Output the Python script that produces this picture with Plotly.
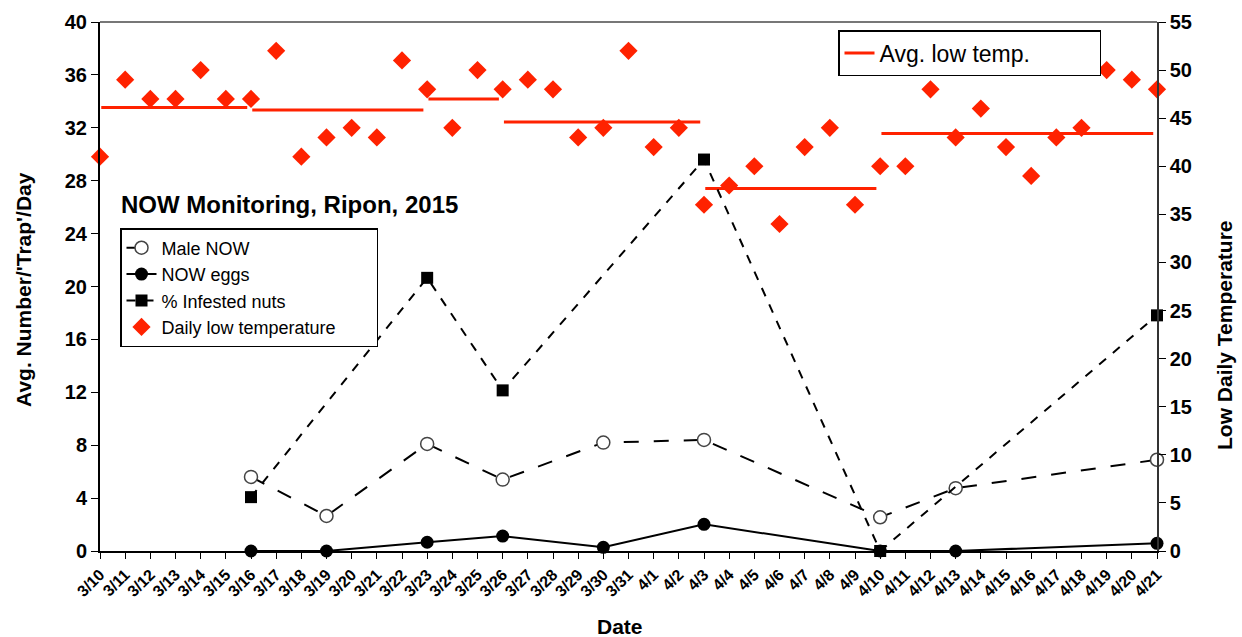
import plotly.graph_objects as go

dates = ["3/10", "3/11", "3/12", "3/13", "3/14", "3/15", "3/16", "3/17", "3/18", "3/19",
         "3/20", "3/21", "3/22", "3/23", "3/24", "3/25", "3/26", "3/27", "3/28", "3/29",
         "3/30", "3/31", "4/1", "4/2", "4/3", "4/4", "4/5", "4/6", "4/7", "4/8",
         "4/9", "4/10", "4/11", "4/12", "4/13", "4/14", "4/15", "4/16", "4/17", "4/18",
         "4/19", "4/20", "4/21"]

daily_low = [41, 49, 47, 47, 50, 47, 47, 52, 41, 43,
             44, 43, 51, 48, 44, 50, 48, 49, 48, 43,
             44, 52, 42, 44, 36, 38, 40, 34, 42, 44,
             36, 40, 40, 48, 43, 46, 42, 39, 43, 44,
             50, 49, 48]

sample_dates = ["3/16", "3/19", "3/23", "3/26", "3/30", "4/3", "4/10", "4/13", "4/21"]
male_now = [5.6, 2.65, 8.1, 5.4, 8.2, 8.4, 2.55, 4.75, 6.9]
now_eggs = [0, 0, 0.66, 1.13, 0.28, 2.02, 0, 0, 0.58]

infest_dates = ["3/16", "3/23", "3/26", "4/3", "4/10", "4/21"]
pct_infested = [5.6, 28.4, 16.7, 40.7, 0, 24.5]

avg_start = ["3/10", "3/16", "3/23", "3/26", "4/3", "4/10"]
avg_end = ["3/16", "3/23", "3/26", "4/3", "4/10", "4/21"]
avg_low = [46.1, 45.85, 47.0, 44.6, 37.7, 43.4]

idx = {d: i for i, d in enumerate(dates)}
RED = "#ff2200"
FONT = "Liberation Sans, Arial, sans-serif"
NB = "\u00a0"

# plot area in pixels
L, R, T, B = 100, 85, 22, 86
W, H = 1242, 637
PW, PH = W - L - R, H - T - B

def px_x(x):
    return (x - L) / PW

def px_y(y):
    return (H - B - y) / PH

fig = go.Figure()

ax, ay = [], []
for s, e, v in zip(avg_start, avg_end, avg_low):
    ax += [idx[s] + 0.05, idx[e] - 0.15, None]
    ay += [v, v, None]
fig.add_trace(go.Scatter(x=ax, y=ay, mode="lines", name="Avg. low temp." + NB * 10,
                         line=dict(color=RED, width=3), yaxis="y2", legend="legend2",
                         connectgaps=False))

fig.add_trace(go.Scatter(x=[idx[d] for d in infest_dates], y=pct_infested, mode="lines+markers",
                         name="% Infested nuts", yaxis="y2", legendrank=3,
                         line=dict(color="black", width=2, dash="dash"),
                         marker=dict(symbol="square", size=12, color="black"),
                         cliponaxis=False))

fig.add_trace(go.Scatter(x=[idx[d] for d in sample_dates], y=male_now, mode="lines+markers",
                         name="Male NOW", legendrank=1,
                         line=dict(color="black", width=2, dash="longdash"),
                         marker=dict(symbol="circle", size=13, color="white",
                                     line=dict(color="#444444", width=1.5)),
                         cliponaxis=False))

fig.add_trace(go.Scatter(x=[idx[d] for d in sample_dates], y=now_eggs, mode="lines+markers",
                         name="NOW eggs", legendrank=2,
                         line=dict(color="black", width=2),
                         marker=dict(symbol="circle", size=13, color="black"),
                         cliponaxis=False))

fig.add_trace(go.Scatter(x=list(range(len(dates))), y=daily_low, mode="markers",
                         name="Daily low temperature" + NB * 7, yaxis="y2", legendrank=4,
                         marker=dict(symbol="diamond", size=14, color=RED),
                         cliponaxis=False))

fig.update_layout(
    width=W, height=H,
    margin=dict(l=L, r=R, t=T, b=B),
    paper_bgcolor="white", plot_bgcolor="white",
    font=dict(family=FONT, color="black"),
    showlegend=True,
    legend=dict(x=px_x(120), y=px_y(228), xanchor="left", yanchor="top",
                bordercolor="black", borderwidth=1.5, bgcolor="white",
                font=dict(size=18, family=FONT), traceorder="normal",
                tracegroupgap=0),
    legend2=dict(x=px_x(838), y=px_y(30), xanchor="left", yanchor="top",
                 bordercolor="black", borderwidth=1.5, bgcolor="white",
                 font=dict(size=23, family=FONT)),
    xaxis=dict(range=[0, 42], tickmode="array", tickvals=list(range(len(dates))),
               ticktext=["<b>%s</b>" % d for d in dates], tickangle=-45,
               tickfont=dict(size=16), ticks="outside", ticklen=6, tickcolor="black",
               showline=True, linecolor="black", linewidth=2, mirror=False,
               showgrid=False, zeroline=False, automargin=False),
    yaxis=dict(range=[0, 40], dtick=4, tickfont=dict(size=20),
               tickprefix="<b>", ticksuffix="</b>",
               ticks="outside", ticklen=7, tickcolor="black",
               showline=True, linecolor="black", linewidth=2,
               showgrid=False, zeroline=False, automargin=False),
    yaxis2=dict(range=[0, 55], dtick=5, overlaying="y", side="right",
                tickfont=dict(size=20), tickprefix="<b>", ticksuffix="</b>",
                ticks="outside", ticklen=7, tickcolor="black",
                showline=True, linecolor="#333333", linewidth=1.5,
                showgrid=False, zeroline=False, automargin=False),
    shapes=[dict(type="line", xref="paper", yref="paper", x0=0, x1=1, y0=1, y1=1,
                 line=dict(color="#777777", width=2))],
    annotations=[
        dict(text="<b>NOW Monitoring, Ripon, 2015</b>", xref="paper", yref="paper",
             x=px_x(119), y=px_y(205), xanchor="left", yanchor="middle",
             showarrow=False, font=dict(size=24, family=FONT, color="black")),
        dict(text="<b>Avg. Number/'Trap'/Day</b>", xref="paper", yref="paper",
             x=px_x(23), y=px_y(290), xanchor="center", yanchor="middle", textangle=-90,
             showarrow=False, font=dict(size=21, family=FONT, color="black")),
        dict(text="<b>Low Daily Temperature</b>", xref="paper", yref="paper",
             x=px_x(1224), y=px_y(335), xanchor="center", yanchor="middle", textangle=-90,
             showarrow=False, font=dict(size=21, family=FONT, color="black")),
        dict(text="<b>Date</b>", xref="paper", yref="paper",
             x=px_x(620), y=px_y(626), xanchor="center", yanchor="middle",
             showarrow=False, font=dict(size=21, family=FONT, color="black")),
    ],
)

fig.write_html("out.html", config={"displayModeBar": False},
               post_script="document.body.style.margin='0px';document.body.style.overflow='hidden';")
